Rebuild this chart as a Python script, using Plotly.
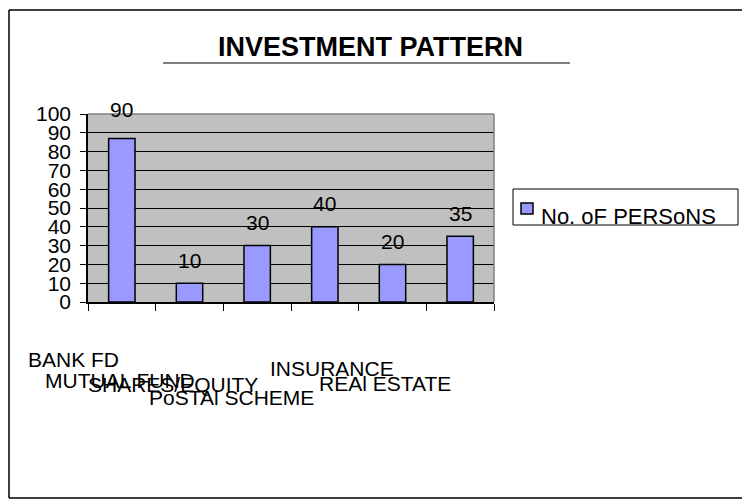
import plotly.graph_objects as go

# ---- data ----
categories = ["BANK FD", "MUTUAL FUND", "SHARES/EQUITY", "PoSTAl SCHEME", "INSURANCE", "REAl ESTATE"]
persons = [87, 10, 30, 40, 20, 35]          # drawn bar heights
label_values = [90, 10, 30, 40, 20, 35]     # data labels as printed
series_name = "No. oF PERSoNS"

# ---- layout geometry (pixels) ----
W, H = 742, 500
PL, PR, PT, PB = 88, 494, 114, 302   # plot area edges


def px_x(x):
    return (x - PL) / (PR - PL)


def px_y(y):
    return (PB - y) / (PB - PT)


FONT = "Arial, Liberation Sans, sans-serif"

fig = go.Figure()
fig.add_trace(go.Bar(
    x=categories, y=persons, width=0.39,
    marker=dict(color="#9999FF", line=dict(color="black", width=1.5)),
    name=series_name, showlegend=False, hoverinfo="skip",
))

# data labels
for c, v in zip(categories, label_values):
    fig.add_annotation(x=c, y=v, xref="x", yref="y", text=str(v),
                       showarrow=False, yshift=23,
                       font=dict(family=FONT, size=21, color="black"))

# staggered category labels (left edge px, centre y px)
label_pos = [(26, 359), (43, 380), (86, 384), (147, 397), (268, 368), (317, 383)]
for c, (lx, ly) in zip(categories, label_pos):
    fig.add_annotation(x=px_x(lx), y=px_y(ly), xref="paper", yref="paper",
                       text=c, showarrow=False, xanchor="left", yanchor="middle",
                       font=dict(family=FONT, size=21, color="black"))

# title + underline
fig.add_annotation(x=px_x(370), y=px_y(47), xref="paper", yref="paper",
                   text="<b>INVESTMENT PATTERN</b>", showarrow=False,
                   xanchor="center", yanchor="middle",
                   font=dict(family=FONT, size=27, color="black"))

shapes = [
    dict(type="line", x0=px_x(163), x1=px_x(570), y0=px_y(63), y1=px_y(63),
         line=dict(color="#808080", width=2)),
    # plot frame top / right
    dict(type="line", x0=0, x1=1, y0=1, y1=1, line=dict(color="#808080", width=1.5)),
    dict(type="line", x0=1, x1=1, y0=0, y1=1, line=dict(color="#808080", width=1.5)),
    # outer chart border
    dict(type="line", x0=px_x(9), x1=px_x(745), y0=px_y(10), y1=px_y(10),
         line=dict(color="black", width=1.5)),
    dict(type="line", x0=px_x(9), x1=px_x(9), y0=px_y(10), y1=px_y(498),
         line=dict(color="black", width=1.5)),
    dict(type="line", x0=px_x(9), x1=px_x(745), y0=px_y(498), y1=px_y(498),
         line=dict(color="black", width=1.5)),
    # legend box and swatch
    dict(type="rect", x0=px_x(513), x1=px_x(738), y0=px_y(189), y1=px_y(225),
         line=dict(color="black", width=1), fillcolor="white"),
    dict(type="rect", x0=px_x(521), x1=px_x(533), y0=px_y(203), y1=px_y(214),
         line=dict(color="black", width=1.5), fillcolor="#9999FF"),
]
for s in shapes:
    s.setdefault("xref", "paper")
    s.setdefault("yref", "paper")

fig.add_annotation(x=px_x(539), y=px_y(226), xref="paper", yref="paper",
                   text=series_name, showarrow=False, xanchor="left", yanchor="bottom",
                   yshift=-5, font=dict(family=FONT, size=22, color="black"))

fig.update_layout(
    width=W, height=H,
    margin=dict(l=PL, r=W - PR, t=PT, b=H - PB, pad=0),
    paper_bgcolor="white", plot_bgcolor="#C0C0C0",
    shapes=shapes, showlegend=False,
    xaxis=dict(type="category", showgrid=False, showticklabels=False,
               ticks="outside", tickson="boundaries", ticklen=7, tickcolor="black",
               showline=True, linecolor="black", linewidth=1.5, zeroline=False),
    yaxis=dict(range=[0, 100], dtick=10, showgrid=True, gridcolor="black", gridwidth=1,
               ticks="outside", ticklen=6, tickcolor="black", ticklabelstandoff=5,
               showline=True, linecolor="black", linewidth=1.5, zeroline=False,
               tickfont=dict(family=FONT, size=21, color="black")),
)

fig.write_html("out.html", config={"displayModeBar": False},
               post_script="document.body.style.margin='0';")
